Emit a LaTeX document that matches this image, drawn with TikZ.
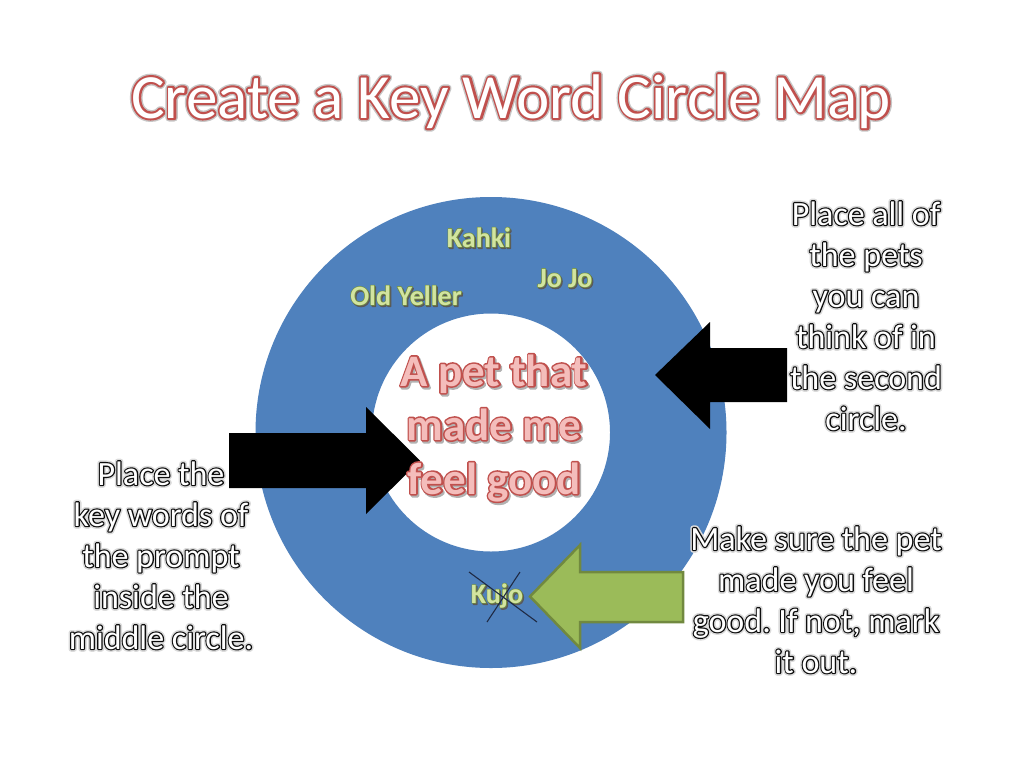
\documentclass[tikz,border=0pt]{standalone}
\usepackage{fontspec}
\setmainfont{Carlito}
\frenchspacing
\definecolor{ringblue}{HTML}{4F81BD}
\definecolor{titlered}{HTML}{C0504D}
\definecolor{pinkfill}{HTML}{F4BDBB}
\definecolor{arrowgreen}{HTML}{9BBB59}
\definecolor{arrowgreenline}{HTML}{71893F}
\definecolor{wordgreen}{HTML}{D2E4A0}
\definecolor{wordgreenline}{HTML}{72903A}
\definecolor{crossline}{HTML}{1F2A44}
\definecolor{glowgray}{gray}{0.86}
\definecolor{shadowgray}{gray}{0.70}

% #1 stroke colour (r g b), #2 stroke width, #3 text ; fill = current colour
\newcommand{\strokedtext}[3]{\special{pdf:literal direct 2 Tr 1 j #2 w #1 RG}#3\special{pdf:literal direct 0 Tr 0 j}}
\newcommand{\glowtxt}[1]{\rlap{\color{glowgray}\strokedtext{0.86 0.86 0.86}{5.5}{#1}}\rlap{\color{black}\strokedtext{0.05 0.05 0.05}{2.4}{#1}}{\color{white}#1}}
\newcommand{\titletxt}[1]{\rlap{\color{shadowgray}\strokedtext{0.78 0.78 0.78}{7.0}{#1}}\rlap{\color{titlered}\strokedtext{0.753 0.314 0.302}{4.2}{#1}}{\color{white}#1}}
\newcommand{\pinktxt}[1]{\rlap{\hspace{1.5pt}\raisebox{-2pt}{\color{shadowgray}\strokedtext{0.70 0.70 0.70}{3.2}{#1}}}\rlap{\color{titlered}\strokedtext{0.753 0.314 0.302}{3.2}{#1}}{\color{pinkfill}#1}}
\newcommand{\greentxt}[1]{\rlap{\hspace{1.2pt}\raisebox{-1.5pt}{\color{black!60}\strokedtext{0.35 0.35 0.35}{1.2}{#1}}}\rlap{\color{wordgreenline}\strokedtext{0.447 0.565 0.227}{1.2}{#1}}{\color{wordgreen}#1}}

\begin{document}
\begin{tikzpicture}[x=1pt,y=-1pt,
  txtline/.style={inner sep=0pt, anchor=base},
  bodytext/.style={txtline, font=\fontsize{34}{41}\selectfont},
  titletext/.style={txtline, font=\fontsize{63}{75}\selectfont},
  promptword/.style={txtline, font=\fontsize{45}{54}\selectfont\bfseries},
  petword/.style={txtline, font=\fontsize{28}{34}\selectfont\bfseries},
  blackarrow/.style={fill=black},
  greenarrow/.style={fill=arrowgreen, draw=arrowgreenline, line width=2.5pt, line join=miter},
  crossstroke/.style={draw=crossline, line width=1.1pt}
]
\useasboundingbox (0,0) rectangle (1024,768);
\fill[white] (0,0) rectangle (1024,768);

% title
\node[titletext] (title) at (511,118) {\titletxt{Create a Key Word Circle Map}};

% ring
\fill[ringblue, even odd rule] (491,432.5) circle (235.5) (491,432.5) circle (119);

% left text
\node[bodytext] (l1) at (161,485) {\glowtxt{Place the}};
\node[bodytext] (l2) at (161,526) {\glowtxt{key words of}};
\node[bodytext] (l3) at (161,567) {\glowtxt{the prompt}};
\node[bodytext] (l4) at (161,608) {\glowtxt{inside the}};
\node[bodytext] (l5) at (161,649) {\glowtxt{middle circle.}};

% right top text
\node[bodytext] (r1) at (866,225) {\glowtxt{Place all of}};
\node[bodytext] (r2) at (866,266) {\glowtxt{the pets}};
\node[bodytext] (r3) at (866,307) {\glowtxt{you can}};
\node[bodytext] (r4) at (866,348) {\glowtxt{think of in}};
\node[bodytext] (r5) at (866,389) {\glowtxt{the second}};
\node[bodytext] (r6) at (866,430) {\glowtxt{circle.}};

% bottom right text
\node[bodytext] (b1) at (816,550) {\glowtxt{Make sure the pet}};
\node[bodytext] (b2) at (816,591) {\glowtxt{made you feel}};
\node[bodytext] (b3) at (816,632) {\glowtxt{good. If not, mark}};
\node[bodytext] (b4) at (816,673) {\glowtxt{it out.}};

% arrows
\path[blackarrow] (229,433) -- (366,433) -- (366,407) -- (420,460.5) -- (366,514) -- (366,488) -- (229,488) -- cycle;
\path[blackarrow] (655,375) -- (710,322) -- (710,348) -- (787,348) -- (787,402) -- (710,402) -- (710,429) -- cycle;
\path[greenarrow] (530,596.5) -- (580,545) -- (580,572) -- (683,572) -- (683,622) -- (580,622) -- (580,648) -- cycle;

% pet words
\node[petword] (kahki) at (479,247) {\greentxt{Kahki}};
\node[petword] (jojo) at (565,287) {\greentxt{Jo Jo}};
\node[petword] (oldyeller) at (406,305) {\greentxt{Old Yeller}};
\node[petword] (kujo) at (497,603) {\greentxt{Kujo}};

% cross over Kujo
\coordinate (xa) at (469,572);
\coordinate (xb) at (537,622);
\coordinate (xc) at (520,572);
\coordinate (xd) at (487,622);
\draw[crossstroke] (xa) -- (xb);
\draw[crossstroke] (xc) -- (xd);

% prompt
\node[promptword] (p1) at (494,386) {\pinktxt{A pet that}};
\node[promptword] (p2) at (494,440) {\pinktxt{made me}};
\node[promptword] (p3) at (494,494) {\pinktxt{feel good}};
\end{tikzpicture}
\end{document}
